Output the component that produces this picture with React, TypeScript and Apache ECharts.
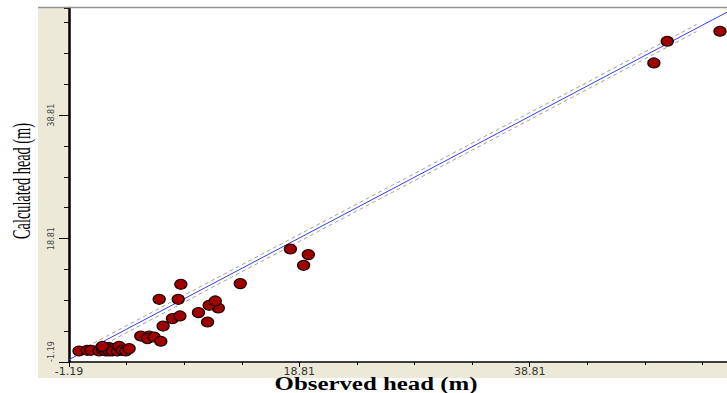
import React, { useEffect, useRef } from "react";
import * as echarts from "echarts";

// Observed vs calculated heads (m)
const observed = [
  -0.32, 0.40, 0.72, 1.42, 1.71, 2.0, 2.0, 2.29, 2.29, 2.58, 2.58, 3.01, 3.16, 3.44, 3.74, 4.03, 1.71,
  5.04, 5.77, 5.62, 6.2, 6.78,
  6.98, 10.84, 7.79, 8.44, 10.05, 11.77, 10.98, 11.51, 6.64, 8.29, 8.52, 13.68,
  19.18, 19.59, 18.03,
  49.59, 50.75, 55.33,
];
const calculated = [
  0.59, 0.71, 0.71, 0.59, 0.87, 0.59, 1.14, 1.14, 0.59, 0.98, 0.59, 0.59, 1.35, 0.71, 0.59, 0.98, 1.35,
  3.02, 3.02, 2.6, 2.86, 2.17,
  4.64, 5.29, 5.84, 6.27, 6.82, 7.56, 8.0, 8.7, 8.97, 8.97, 11.4, 11.52,
  14.48, 16.22, 17.12,
  47.27, 50.79, 52.41,
];
const fitX = [-1.19, 55.94];
const fitY = [-0.8, 55.5];
const upperX = [0.4, 53.3];
const upperY = [1.34, 53.5];
const lowerX = [0.4, 53.3];
const lowerY = [0.2, 52.36];

const AXIS_MIN = -1.19;
const X_MAX = 55.94;
const Y_MAX = 56.18;
const MAJOR = 20;
const MINOR = 5;

const xTitle = "Observed head (m)";
const yTitle = "Calculated head (m)";

const S = -AXIS_MIN; // shift so axis starts at 0
const shiftPts = (xs: number[], ys: number[]) => xs.map((x, i) => [x + S, ys[i] + S]);

export default function App() {
  const ref = useRef<HTMLDivElement>(null);
  useEffect(() => {
    if (!ref.current) return;
    const chart = echarts.init(ref.current, undefined, { renderer: "svg" });
    const fmt = (v: number) => {
      const r = v / MAJOR;
      return Math.abs(r - Math.round(r)) < 1e-6 ? (v - S).toFixed(2) : "";
    };
    const xMax = X_MAX + S;
    const yMax = Y_MAX + S;
    chart.setOption({
      animation: false,
      backgroundColor: "#ffffff",
      grid: {
        left: 69,
        right: 0,
        top: 8,
        bottom: 31,
        show: true,
        backgroundColor: "#ffffff",
        borderWidth: 0,
      },
      graphic: [
        {
          type: "rect",
          z: -1,
          shape: { x: 38, y: 7, width: 689, height: 371 },
          style: { fill: "#ECE9D8" },
        },
        {
          type: "line",
          z: 5,
          shape: { x1: 38, y1: 7.5, x2: 727, y2: 7.5 },
          style: { stroke: "#929292", lineWidth: 1.5 },
        },
        {
          type: "text",
          x: 376,
          y: 384,
          scaleX: 1.38,
          style: {
            text: xTitle,
            font: "bold 18px 'Liberation Serif', 'Times New Roman', serif",
            fill: "#000",
            textAlign: "center",
            textVerticalAlign: "middle",
          },
        },
        {
          type: "text",
          x: 21,
          y: 181,
          rotation: Math.PI / 2,
          scaleX: 0.55,
          style: {
            text: yTitle,
            font: "26px 'Liberation Serif', 'Times New Roman', serif",
            fill: "#000",
            textAlign: "center",
            textVerticalAlign: "middle",
          },
        },
      ],
      xAxis: [
        {
          type: "value",
          position: "bottom",
          min: 0,
          max: xMax,
          interval: MAJOR,
          axisLine: { show: true, lineStyle: { color: "#000", width: 1.5 } },
          axisTick: { show: true, length: 5, lineStyle: { color: "#000" } },
          axisLabel: {
            formatter: fmt,
            showMaxLabel: false,
            margin: 4,
            fontSize: 11,
            fontFamily: "'DejaVu Sans', Arial, sans-serif",
            color: "#333",
          },
          splitLine: { show: false },
        },
        {
          type: "value",
          position: "bottom",
          min: 0,
          max: xMax,
          interval: MINOR,
          axisLine: { show: false },
          axisTick: { show: true, length: 3, lineStyle: { color: "#000" } },
          axisLabel: { show: false },
          splitLine: { show: false },
        },
      ],
      yAxis: [
        {
          type: "value",
          position: "left",
          min: 0,
          max: yMax,
          interval: MAJOR,
          axisLine: { show: true, lineStyle: { color: "#000", width: 2.5 } },
          axisTick: { show: true, length: 10, lineStyle: { color: "#000" } },
          axisLabel: {
            formatter: fmt,
            showMaxLabel: false,
            rotate: 90,
            margin: 14,
            alignMinLabel: "left",
            fontSize: 9,
            fontFamily: "'Liberation Sans Narrow', 'DejaVu Sans Condensed', Arial, sans-serif",
            color: "#444",
          },
          splitLine: { show: false },
        },
        {
          type: "value",
          position: "left",
          min: 0,
          max: yMax,
          interval: MINOR,
          axisLine: { show: false },
          axisTick: { show: true, length: 5, lineStyle: { color: "#000" } },
          axisLabel: { show: false },
          splitLine: { show: false },
        },
      ],
      series: [
        {
          type: "line",
          data: shiftPts(upperX, upperY),
          showSymbol: false,
          lineStyle: { color: "#a0a0a0", width: 1, type: [4, 3] },
          z: 2,
        },
        {
          type: "line",
          data: shiftPts(lowerX, lowerY),
          showSymbol: false,
          lineStyle: { color: "#a0a0a0", width: 1, type: [4, 3] },
          z: 2,
        },
        {
          type: "line",
          data: shiftPts(fitX, fitY),
          showSymbol: false,
          lineStyle: { color: "#3a3aff", width: 1 },
          z: 3,
        },
        {
          type: "scatter",
          data: shiftPts(observed, calculated),
          symbol: "circle",
          symbolSize: [12, 10],
          itemStyle: { color: "#A00000", borderColor: "#1a0000", borderWidth: 1.2, opacity: 1 },
          z: 4,
        },
      ],
    });
    return () => chart.dispose();
  }, []);
  return (
    <div
      ref={ref}
      style={{ position: "fixed", left: 0, top: 0, width: 727, height: 393 }}
    />
  );
}
